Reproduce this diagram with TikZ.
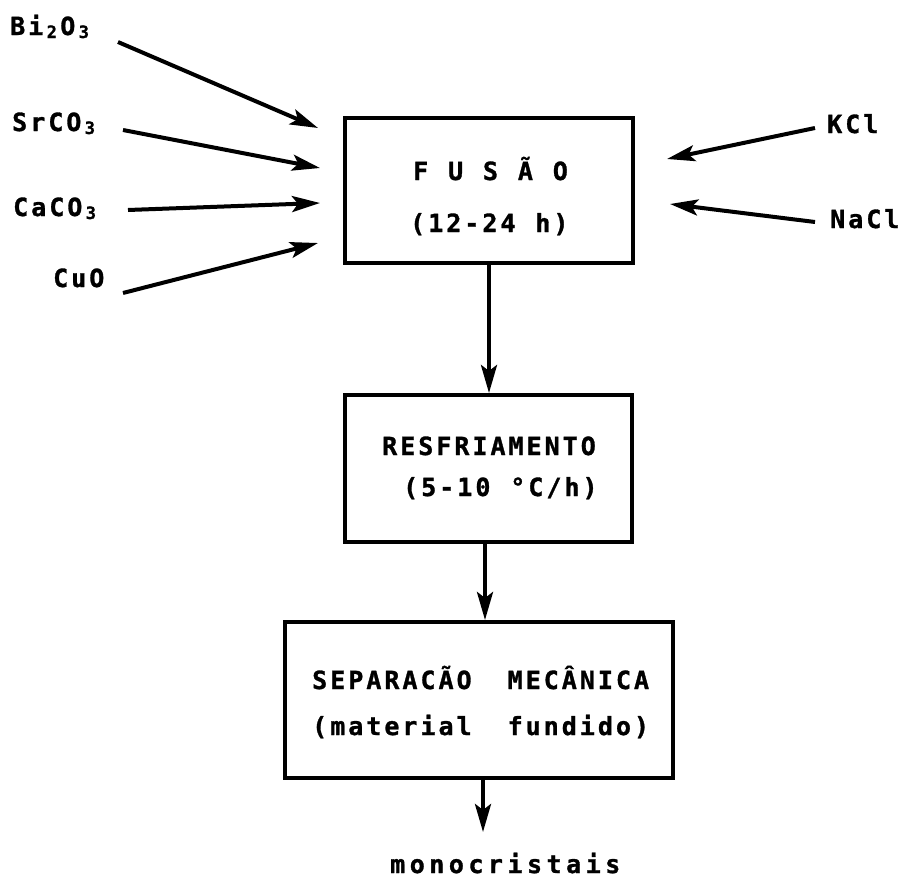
\documentclass[tikz,border=0pt]{standalone}
\usepackage{fontspec}
\usetikzlibrary{arrows.meta}
\newfontfamily\dm{DejaVu Sans Mono}[LetterSpace=12,WordSpace=1.1,BoldFeatures={FakeBold=1.2}]
\newfontfamily\dmwide{DejaVu Sans Mono}[LetterSpace=18,WordSpace=1.1,BoldFeatures={FakeBold=1.2}]
\newcommand{\lowsub}[1]{\makebox[17pt][c]{\raisebox{-3pt}{\fontsize{17pt}{17pt}\selectfont #1}}}
\begin{document}
\begin{tikzpicture}[x=1pt,y=-1pt,
  box/.style={draw,line width=4pt,rectangle,inner sep=0pt},
  txt/.style={anchor=base west,inner sep=0pt,font=\fontsize{25pt}{25pt}\dm\bfseries},
  arr/.style={line width=4pt,-{Stealth[length=28pt,width=16pt,inset=6pt]}}]
\useasboundingbox (0,0) rectangle (903,878);
% boxes
\node[box,minimum width=288pt,minimum height=145pt] (fus) at (489,190.5) {};
\node[box,minimum width=287pt,minimum height=147pt] (res) at (488.5,468.5) {};
\node[box,minimum width=388pt,minimum height=156pt] (sep) at (479,700) {};
% box texts
\node[txt] (t1) at (413,180) {F U S Ã O};
\node[txt] (t2) at (410,232) {(12-24 h)};
\node[txt] (t3) at (382,455) {RESFRIAMENTO};
\node[txt] (t4) at (403,496) {(5-10 °C/h)};
\node[txt] (t5) at (312,689) {SEPARACÃO\hspace{36pt}MECÂNICA};
\node[txt] (t6) at (312,735) {(material\hspace{36pt}fundido)};
\node[txt,font=\fontsize{25pt}{25pt}\dmwide\bfseries] (mono) at (390,873) {monocristais};
% input labels
\node[txt] (bi) at (10,35) {Bi\lowsub{2}O\lowsub{3}};
\node[txt] (sr) at (12,131) {SrCO\lowsub{3}};
\node[txt] (ca) at (13,216) {CaCO\lowsub{3}};
\node[txt] (cu) at (53,287) {CuO};
\node[txt] (kcl) at (827,133) {KCl};
\node[txt] (nacl) at (830,228) {NaCl};
% arrow end points
\coordinate (s1) at (118,42);  \coordinate (e1) at (318,128);
\coordinate (s2) at (123,130); \coordinate (e2) at (320,168);
\coordinate (s3) at (128,210); \coordinate (e3) at (320,203);
\coordinate (s4) at (123,293); \coordinate (e4) at (318,243);
\coordinate (s5) at (815,128); \coordinate (e5) at (667,159);
\coordinate (s6) at (815,222); \coordinate (e6) at (670,204);
\coordinate (m) at (483,832);
\draw[arr] (s1) -- (e1);
\draw[arr] (s2) -- (e2);
\draw[arr] (s3) -- (e3);
\draw[arr] (s4) -- (e4);
\draw[arr] (s5) -- (e5);
\draw[arr] (s6) -- (e6);
% vertical flow
\draw[arr] (fus.south) -- (fus.south |- res.north);
\draw[arr] ([xshift=-3.5pt]res.south) -- ([xshift=-3.5pt]res.south |- sep.north);
\draw[arr] (sep.south -| m) -- (m);
\end{tikzpicture}
\end{document}
